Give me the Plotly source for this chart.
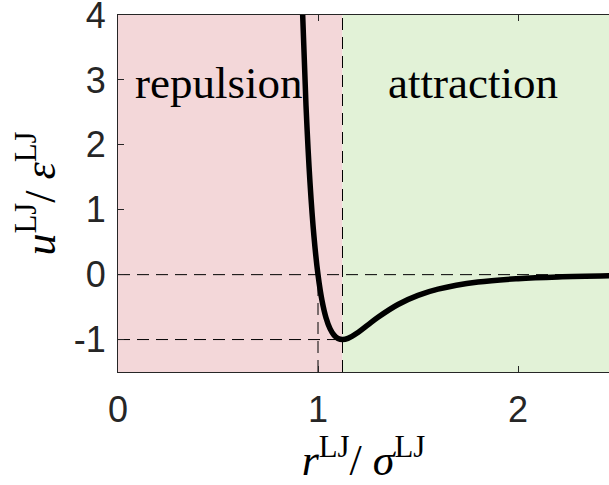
import plotly.graph_objects as go

# Lennard-Jones pair potential in reduced units
r_lj = [0.90, 0.92, 0.94, 0.96, 0.98, 1.00, 1.02, 1.04, 1.06, 1.08, 1.10,
        1.1225, 1.15, 1.20, 1.25, 1.30, 1.40, 1.50, 1.60, 1.80, 2.00, 2.20, 2.50]
u_lj = [6.636, 4.283, 2.606, 1.418, 0.582, 0.000, -0.398, -0.663, -0.832, -0.932, -0.983,
        -1.000, -0.982, -0.891, -0.774, -0.657, -0.460, -0.320, -0.224, -0.114, -0.0615, -0.035, -0.0163]

r_min = 1.1225      # position of the potential minimum
u_min = -1.0        # well depth
r_zero = 1.0        # zero crossing
x_range = [0, 2.455]
y_range = [-1.5, 4.0005]
x_ticks = [0, 1, 2]
x_labels = ["0", "1", "2"]
y_ticks = [-1, 0, 1, 2, 3, 4]
y_labels = ["-1", "0", "1", "2", "3", "4"]

region_names = ["repulsion", "attraction"]
region_label_x = [0.075, 1.34]
region_label_y = 2.95
region_colors = ["#f3d7d9", "#e2f2d7"]

axis_color = "#262626"
serif = "Liberation Serif"
sans = "Liberation Sans"

fig = go.Figure()

# shaded regions
fig.add_shape(type="rect", xref="x", yref="y", layer="below", line_width=0,
              x0=x_range[0], x1=r_min, y0=y_range[0], y1=y_range[1],
              fillcolor=region_colors[0])
fig.add_shape(type="rect", xref="x", yref="y", layer="below", line_width=0,
              x0=r_min, x1=x_range[1], y0=y_range[0], y1=y_range[1],
              fillcolor=region_colors[1])

dash_style = dict(color="black", width=1, dash="12px,7px")
guides = [
    ([x_range[0], x_range[1]], [0, 0]),
    ([x_range[0], r_min], [u_min, u_min]),
    ([r_zero, r_zero], [y_range[0], 0]),
    ([r_min, r_min], [y_range[0], y_range[1]]),
]
for gx, gy in guides:
    fig.add_trace(go.Scatter(x=gx, y=gy, mode="lines", line=dash_style,
                             hoverinfo="skip", showlegend=False))

fig.add_trace(go.Scatter(x=r_lj, y=u_lj, mode="lines",
                         line=dict(color="black", width=5.5, shape="spline", smoothing=1.0),
                         showlegend=False))

for name, lx in zip(region_names, region_label_x):
    fig.add_annotation(x=lx, y=region_label_y, xref="x", yref="y",
                       xanchor="left", yanchor="middle",
                       text=name, showarrow=False,
                       font=dict(family=serif, size=45, color="black"))

fig.update_layout(
    width=609, height=485,
    margin=dict(l=118, r=0, t=15, b=113),
    plot_bgcolor="white", paper_bgcolor="white",
    xaxis=dict(range=x_range, tickvals=x_ticks, ticktext=x_labels,
               ticks="inside", ticklen=6, ticklabelstandoff=6,
               ticklabeloverflow="allow", automargin=False,
               tickcolor=axis_color, showgrid=False, zeroline=False,
               showline=True, linecolor=axis_color, linewidth=1, mirror="ticks",
               tickfont=dict(family=sans, size=36, color=axis_color),
               title=dict(text="<i>r</i><sup>LJ</sup>/ <i>σ</i><sup>LJ</sup>",
                          font=dict(family=serif, size=44, color="black"), standoff=6)),
    yaxis=dict(range=y_range, tickvals=y_ticks, ticktext=y_labels,
               ticks="inside", ticklen=6, ticklabelstandoff=4,
               ticklabeloverflow="allow", automargin=False,
               tickcolor=axis_color, showgrid=False, zeroline=False,
               showline=True, linecolor=axis_color, linewidth=1,
               tickfont=dict(family=sans, size=36, color=axis_color),
               title=dict(text="<i>u</i><sup>LJ</sup>/ <i>ε</i><sup>LJ</sup>",
                          font=dict(family=serif, size=44, color="black"), standoff=4)),
)

fig.write_html("out.html")
